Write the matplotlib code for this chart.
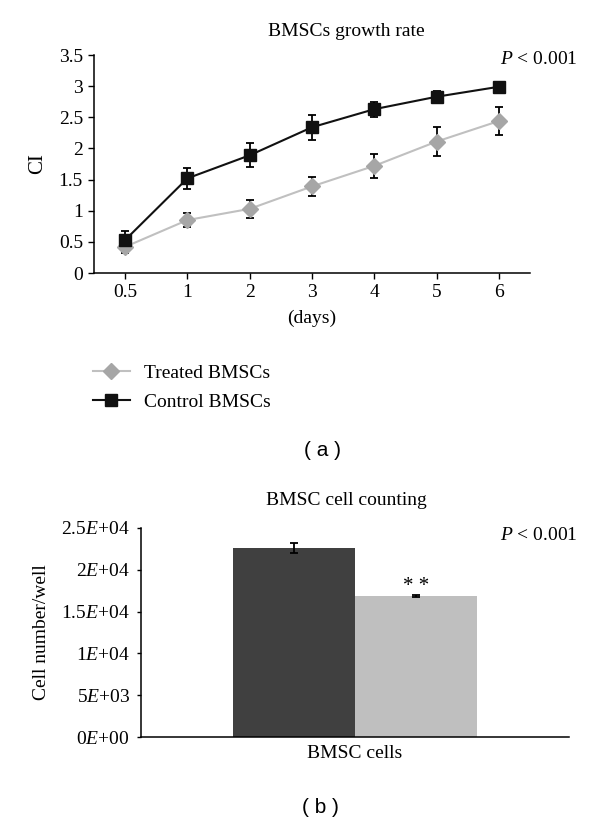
import numpy as np
import matplotlib
matplotlib.use('Agg')
import matplotlib.pyplot as plt

plt.rcParams['font.family'] = ['Liberation Serif', 'DejaVu Serif']
plt.rcParams['mathtext.fontset'] = 'custom'
plt.rcParams['mathtext.rm'] = 'Liberation Serif'
plt.rcParams['mathtext.it'] = 'Liberation Serif:italic'

# (a) growth rate data
days = ['0.5', '1', '2', '3', '4', '5', '6']
control_ci = [0.53, 1.52, 1.89, 2.34, 2.63, 2.83, 2.99]
control_err = [0.15, 0.17, 0.19, 0.20, 0.12, 0.10, 0.08]
treated_ci = [0.42, 0.85, 1.03, 1.39, 1.72, 2.11, 2.44]
treated_err = [0.10, 0.11, 0.15, 0.15, 0.19, 0.23, 0.22]
ci_ticks = [0, 0.5, 1, 1.5, 2, 2.5, 3, 3.5]

# (b) cell counting data
bar_groups = ['Control', 'Treated']
cell_counts = [22550, 16900]
cell_err = [600, 100]
count_ticks = [0, 5000, 10000, 15000, 20000, 25000]

fig = plt.figure(figsize=(6, 8.22), dpi=100)

# ---- top panel
ax1 = fig.add_axes([94/600, 1-273/822, (530-94)/600, (273-55)/822])
x = np.arange(len(days))
ax1.errorbar(x, treated_ci, yerr=treated_err, fmt='none', ecolor='black',
             elinewidth=1.3, capsize=3, capthick=1.3, zorder=2)
ax1.errorbar(x, control_ci, yerr=control_err, fmt='none', ecolor='black',
             elinewidth=1.3, capsize=3, capthick=1.3, zorder=2)
h_t, = ax1.plot(x, treated_ci, color='#c0c0c0', lw=1.5, marker='D',
                ms=8.5, mfc='#a6a6a6', mec='#a6a6a6', label='Treated BMSCs', zorder=3)
h_c, = ax1.plot(x, control_ci, color='#111111', lw=1.5, marker='s',
                ms=8.5, mfc='#111111', mec='#111111', label='Control BMSCs', zorder=3)
ax1.set_xlim(-0.5, len(days) - 0.5)
ax1.set_ylim(0, 3.5)
ax1.set_xticks(x)
ax1.set_xticklabels(days)
ax1.set_yticks(ci_ticks)
ax1.set_yticklabels([f'{v:g}' for v in ci_ticks])
ax1.tick_params(direction='out', length=4, width=1, labelsize=14, pad=4)
for s in ['top', 'right']:
    ax1.spines[s].set_visible(False)
for s in ['left', 'bottom']:
    ax1.spines[s].set_linewidth(1.1)
ax1.set_ylabel('CI', fontsize=15, labelpad=8)
ax1.set_xlabel('(days)', fontsize=14, labelpad=6)

fig.text(346/600, 1-32/822, 'BMSCs growth rate', ha='center', va='center', fontsize=14)
fig.text(578/600, 1-60/822, r'$P$ < 0.001', ha='right', va='center', fontsize=14)

fig.legend(handles=[h_t, h_c], loc='upper left', bbox_to_anchor=(93/600, 1-364/822),
           frameon=False, fontsize=14, borderpad=0, borderaxespad=0,
           handlelength=1.9, handletextpad=0.7, labelspacing=0.6)

fig.text(322/600, 1-450/822, '( a )', ha='center', va='center', fontsize=15,
         family=['Liberation Sans', 'DejaVu Sans'])

# ---- bottom panel
ax2 = fig.add_axes([141/600, 1-737/822, (569-141)/600, (737-528)/822])
bx = np.array([-0.285, 0.285])
ax2.bar(bx, cell_counts, width=0.57, color=['#404040', '#bfbfbf'], zorder=2)
ax2.errorbar(bx, cell_counts, yerr=cell_err, fmt='none', ecolor='black',
             elinewidth=1.3, capsize=3, capthick=1.3, zorder=3)
ax2.text(bx[1], cell_counts[1] + cell_err[1] + 1000, '* *', ha='center', va='center', fontsize=15)
ax2.set_xlim(-1, 1)
ax2.set_ylim(0, 25000)


def sci_label(v):
    if v == 0:
        return r'0$\it{E}$+00'
    e = int(np.floor(np.log10(v)))
    m = v / 10**e
    return f'{m:g}' + r'$\it{E}$' + f'+{e:02d}'


ax2.set_yticks(count_ticks)
ax2.set_yticklabels([sci_label(v) for v in count_ticks])
ax2.set_xticks([0])
ax2.set_xticklabels(['BMSC cells'])
ax2.tick_params(axis='y', direction='out', length=3, width=1, labelsize=14, pad=5)
ax2.tick_params(axis='x', length=0, labelsize=14, pad=6)
for s in ['top', 'right']:
    ax2.spines[s].set_visible(False)
for s in ['left', 'bottom']:
    ax2.spines[s].set_linewidth(1.1)
ax2.set_ylabel('Cell number/well', fontsize=14, labelpad=8)

fig.text(346/600, 1-500/822, 'BMSC cell counting', ha='center', va='center', fontsize=14)
fig.text(578/600, 1-535/822, r'$P$ < 0.001', ha='right', va='center', fontsize=14)

fig.text(320/600, 1-807/822, '( b )', ha='center', va='center', fontsize=15,
         family=['Liberation Sans', 'DejaVu Sans'])

fig.savefig('out.png', dpi=100)
